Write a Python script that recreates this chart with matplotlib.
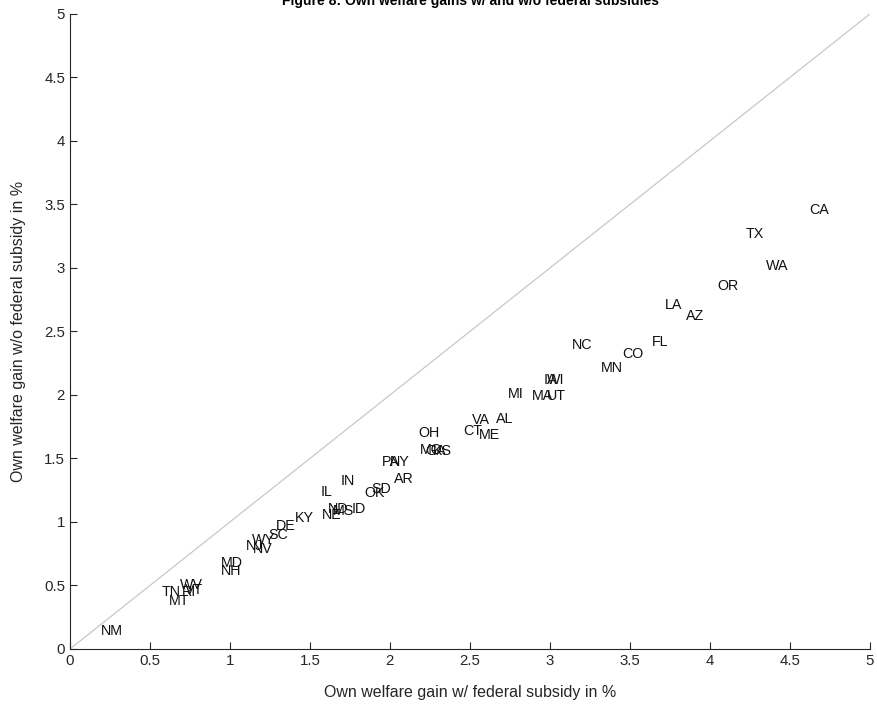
import matplotlib.pyplot as plt

plt.rcParams['font.family'] = ['Liberation Sans', 'DejaVu Sans']

# State labels and their welfare gains (in %)
states = ['CA', 'TX', 'WA', 'OR', 'LA', 'AZ', 'FL', 'CO', 'NC', 'MN',
          'IA', 'WI', 'MI', 'MA', 'UT', 'AL', 'VA', 'CT', 'ME', 'OH',
          'MO', 'GA', 'KS', 'PA', 'NY', 'AR', 'IN', 'IL', 'OK', 'SD',
          'NE', 'ND', 'MS', 'ID', 'KY', 'DE', 'SC', 'WY', 'NJ', 'NV',
          'MD', 'NH', 'TN', 'MT', 'WV', 'RI', 'VT', 'NM']
gain_with = [4.62, 4.225, 4.35, 4.05, 3.72, 3.85, 3.64, 3.45, 3.14, 3.32,
             2.96, 2.98, 2.74, 2.89, 2.98, 2.66, 2.51, 2.46, 2.555, 2.18,
             2.19, 2.22, 2.27, 1.95, 2.0, 2.025, 1.69, 1.567, 1.84, 1.885,
             1.577, 1.615, 1.645, 1.76, 1.406, 1.29, 1.24, 1.14, 1.10, 1.146,
             0.944, 0.944, 0.573, 0.62, 0.6875, 0.70, 0.72, 0.19]
gain_without = [3.46, 3.265, 3.016, 2.86, 2.71, 2.62, 2.42, 2.32, 2.39, 2.215,
                2.115, 2.115, 2.01, 1.99, 1.99, 1.81, 1.80, 1.72, 1.685, 1.70,
                1.567, 1.56, 1.56, 1.475, 1.475, 1.34, 1.32, 1.234, 1.23, 1.258,
                1.055, 1.10, 1.087, 1.10, 1.03, 0.968, 0.898, 0.858, 0.81, 0.785,
                0.675, 0.614, 0.446, 0.378, 0.504, 0.45, 0.465, 0.14]
ticks = [0, 0.5, 1, 1.5, 2, 2.5, 3, 3.5, 4, 4.5, 5]
tick_labels = ['0', '0.5', '1', '1.5', '2', '2.5', '3', '3.5', '4', '4.5', '5']

fig = plt.figure(figsize=(8.77, 7.13), dpi=100)
ax = fig.add_axes([0.0798, 0.0898, 0.912, 0.8906])

# 45 degree line
ax.plot([0, 5], [0, 5], color='#c8c8c8', linewidth=0.9)

for name, x, y in zip(states, gain_with, gain_without):
    ax.text(x, y, name, fontsize=10.3, ha='left', va='center', color='#111111')

ax.set_xlim(0, 5)
ax.set_ylim(0, 5)
ax.set_xticks(ticks)
ax.set_xticklabels(tick_labels)
ax.set_yticks(ticks)
ax.set_yticklabels(tick_labels)
ax.tick_params(direction='in', length=5, labelsize=10.8, colors='#262626')
for side in ['top', 'right']:
    ax.spines[side].set_visible(False)
for side in ['left', 'bottom']:
    ax.spines[side].set_color('#262626')
    ax.spines[side].set_linewidth(0.8)

ax.set_xlabel('Own welfare gain w/ federal subsidy in %', fontsize=11.5, color='#262626', labelpad=12)
ax.set_ylabel('Own welfare gain w/o federal subsidy in %', fontsize=11.5, color='#262626', labelpad=13)

fig.text(0.536, 1 - 5 / 713, 'Figure 8: Own welfare gains w/ and w/o federal subsidies',
         ha='center', va='baseline', fontsize=10, fontweight='bold')

fig.savefig('out.png', dpi=100)
